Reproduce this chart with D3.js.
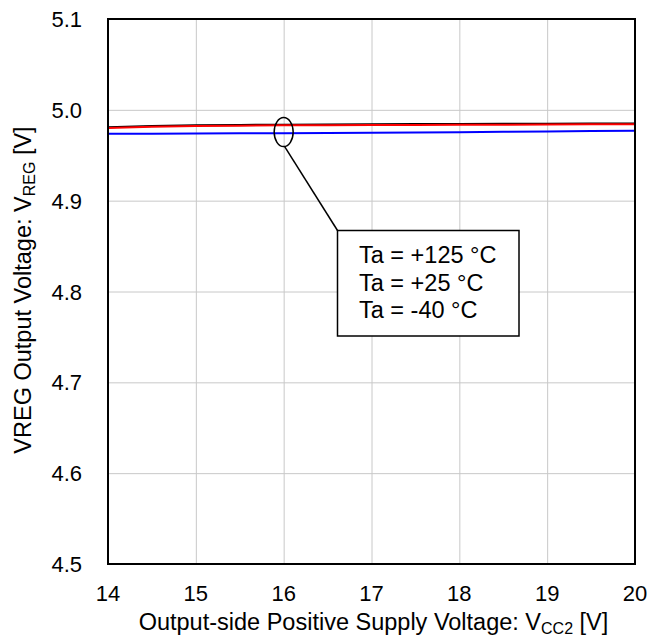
<!DOCTYPE html>
<html><head><meta charset="utf-8">
<script src="https://cdn.jsdelivr.net/npm/d3@7"></script>
<style>body{margin:0;background:#fff}svg{display:block;font-family:Arial,"Liberation Sans",sans-serif}</style>
</head><body><svg id="c" width="663" height="639"></svg>
<script>
const vcc2 = [14,14.5,15,15.5,16,16.5,17,17.5,18,18.5,19,19.5,20];
const ta125 = [4.9800,4.9815,4.9822,4.9826,4.9829,4.9831,4.9833,4.9834,4.9836,4.9837,4.9838,4.9840,4.9841];
const ta25  = [4.9808,4.9822,4.9830,4.9834,4.9837,4.9839,4.9841,4.9843,4.9844,4.9846,4.9847,4.9849,4.9850];
const taM40 = [4.9737,4.9738,4.9739,4.9741,4.9743,4.9745,4.9748,4.9751,4.9754,4.9758,4.9762,4.9766,4.9770];
const xTicks = [14,15,16,17,18,19,20];
const yTicks = [4.5,4.6,4.7,4.8,4.9,5.0,5.1];
const legendLabels = ["Ta = +125 °C","Ta = +25 °C","Ta = -40 °C"];

const svg = d3.select("#c");
const L=108,R=635,T=19,B=564;
const x = d3.scaleLinear().domain([14,20]).range([L,R]);
const y = d3.scaleLinear().domain([4.5,5.1]).range([B,T]);

// grid
svg.append("g").attr("transform",`translate(0,${B})`)
  .call(d3.axisBottom(x).tickValues(xTicks).tickSize(-(B-T)).tickFormat(""))
  .call(g=>{g.select(".domain").remove();g.selectAll("line").attr("stroke","#c8c8c8").attr("stroke-width",1);});
svg.append("g").attr("transform",`translate(${L},0)`)
  .call(d3.axisLeft(y).tickValues(yTicks).tickSize(-(R-L)).tickFormat(""))
  .call(g=>{g.select(".domain").remove();g.selectAll("line").attr("stroke","#c8c8c8").attr("stroke-width",1);});

// tick labels
svg.append("g").selectAll("text").data(xTicks).join("text")
  .attr("x",d=>x(d)).attr("y",601).attr("text-anchor","middle")
  .attr("font-size",22).text(d=>d);
svg.append("g").selectAll("text").data(yTicks).join("text")
  .attr("x",82).attr("y",d=>y(d)+8).attr("text-anchor","end")
  .attr("font-size",22).text(d=>d.toFixed(1));

// lines
const line = d3.line().x((d,i)=>x(vcc2[i])).y(d=>y(d));
[[ta25,"#000000"],[ta125,"#ff0000"],[taM40,"#0000ff"]].forEach(([s,c])=>{
  svg.append("path").datum(s).attr("d",line).attr("fill","none").attr("stroke",c).attr("stroke-width",2);
});

// frame
svg.append("rect").attr("x",L).attr("y",T).attr("width",R-L).attr("height",B-T)
  .attr("fill","none").attr("stroke","#000").attr("stroke-width",2);

// annotation
const ex = x(16), ey = y(4.9755);
svg.append("ellipse").attr("cx",ex).attr("cy",ey).attr("rx",9.5).attr("ry",14.5)
  .attr("fill","none").attr("stroke","#000").attr("stroke-width",1.5);
svg.append("line").attr("x1",ex+1).attr("y1",ey+14.5).attr("x2",337.5).attr("y2",230.5)
  .attr("stroke","#000").attr("stroke-width",1.5);
svg.append("rect").attr("x",337.5).attr("y",230.5).attr("width",181.5).attr("height",105.5)
  .attr("fill","#fff").attr("stroke","#000").attr("stroke-width",1.5);
svg.append("g").selectAll("text").data(legendLabels).join("text")
  .attr("x",359).attr("y",(d,i)=>263+i*27.6).attr("font-size",23.5).text(d=>d);

// axis titles
const xt = svg.append("text").attr("x",(L+R)/2+2).attr("y",630).attr("text-anchor","middle").attr("font-size",23.5);
xt.append("tspan").text("Output-side Positive Supply Voltage: V");
xt.append("tspan").attr("font-size",16).attr("dy",4).text("CC2");
xt.append("tspan").attr("dy",-4).text(" [V]");

const yt = svg.append("text").attr("transform",`translate(31,290) rotate(-90)`).attr("text-anchor","middle").attr("font-size",23.5);
yt.append("tspan").text("VREG Output Voltage: V");
yt.append("tspan").attr("font-size",16).attr("dy",4).text("REG");
yt.append("tspan").attr("dy",-4).text(" [V]");
</script></body></html>
